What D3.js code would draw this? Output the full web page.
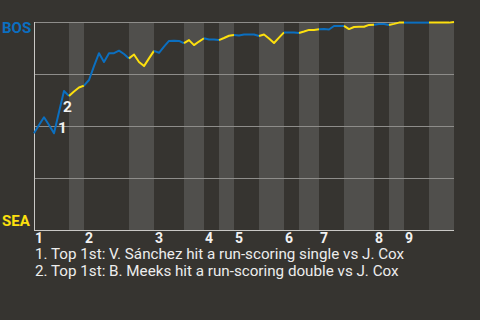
<!DOCTYPE html>
<html>
<head>
<meta charset="utf-8">
<script src="https://cdn.jsdelivr.net/npm/d3@7"></script>
<style>
  body { margin: 0; background: #363430; }
  svg { display: block; font-family: Roboto, "Noto Sans", sans-serif; }
</style>
</head>
<body>
<script>
// win probability after each event (BOS = 1, SEA = 0)
var winProb = [0.465, 0.505, 0.542, 0.505, 0.465, 0.567, 0.668, 0.644, 0.666, 0.685,
    0.694, 0.721, 0.788, 0.850, 0.808, 0.850, 0.850, 0.862, 0.846, 0.825,
    0.844, 0.808, 0.788, 0.825, 0.861, 0.852, 0.882, 0.909, 0.910, 0.909,
    0.898, 0.913, 0.889, 0.906, 0.922, 0.916, 0.916, 0.913, 0.923, 0.934,
    0.938, 0.935, 0.940, 0.940, 0.940, 0.933, 0.940, 0.921, 0.899, 0.925,
    0.950, 0.950, 0.950, 0.947, 0.954, 0.962, 0.962, 0.965, 0.966, 0.964,
    0.981, 0.981, 0.981, 0.966, 0.976, 0.977, 0.977, 0.986, 0.987, 0.990,
    0.990, 0.986, 0.991, 0.997, 0.997, 0.997, 0.997, 0.997, 0.997, 0.997,
    0.997, 0.997, 0.997, 0.997, 1.0];
// event index where each half inning starts (top 1st, bottom 1st, ...), last = end
var halfStarts = [0, 7, 10, 19, 24, 30, 34, 37, 40, 45, 50, 53, 57, 62, 68, 71, 74, 79, 84];
var inningLabels = ["1", "2", "3", "4", "5", "6", "7", "8", "9"];
var teams = ["BOS", "SEA"];
var markerIdx = [5, 6];
var markerLabels = ["1", "2"];
var notes = ["1. Top 1st: V. Sánchez hit a run-scoring single vs J. Cox",
    "2. Top 1st: B. Meeks hit a run-scoring double vs J. Cox"];

var margin = {top: 22, right: 26, bottom: 90, left: 34}
  , width = 480 - margin.left - margin.right
  , height = 320 - margin.top - margin.bottom;

var blue = "#0b6fc0", yellow = "#fde00e";

var svg = d3.select("body").append("svg")
    .attr("width", 480)
    .attr("height", 320)
    .append("g")
    .attr("transform", "translate(" + margin.left + "," + margin.top + ")");

var x = d3.scaleLinear().domain([0, halfStarts[halfStarts.length - 1]]).range([0, width]);
var y = d3.scaleLinear().domain([0, 1]).range([height, 0]);

// shaded bottom halves
var bottoms = d3.range(1, halfStarts.length - 1, 2);
svg.selectAll(".band")
    .data(bottoms)
    .enter().append("rect")
    .attr("class", "band")
    .attr("x", function(k) { return x(halfStarts[k]); })
    .attr("y", 0)
    .attr("width", function(k) { return x(halfStarts[k + 1]) - x(halfStarts[k]); })
    .attr("height", height)
    .style("fill", "#504f4c");

// gridlines
svg.append("g")
    .call(d3.axisLeft(y).tickValues([0.25, 0.5, 0.75, 1]).tickSize(-width).tickFormat(""))
    .call(g => g.select(".domain").remove())
    .selectAll("line")
    .style("stroke", "#8e8d8a");

// axis lines
svg.append("line")
    .attr("x1", 0.5).attr("x2", 0.5).attr("y1", 0).attr("y2", height)
    .style("stroke", "#c9c8c5");
svg.append("line")
    .attr("x1", 0).attr("x2", width).attr("y1", height + 0.5).attr("y2", height + 0.5)
    .style("stroke", "#c9c8c5");

// win probability line, one piece per half inning
var line = d3.line()
    .x(function(i) { return x(i); })
    .y(function(i) { return y(winProb[i]); });

svg.selectAll(".wp")
    .data(d3.range(halfStarts.length - 1))
    .enter().append("path")
    .attr("class", "wp")
    .attr("d", function(k) { return line(d3.range(halfStarts[k], halfStarts[k + 1] + 1)); })
    .style("fill", "none")
    .style("stroke", function(k) { return k % 2 === 0 ? blue : yellow; })
    .style("stroke-width", 2)
    .style("stroke-linejoin", "round");

// event markers
svg.selectAll(".marker")
    .data(markerIdx)
    .enter().append("text")
    .attr("class", "marker")
    .attr("x", function(i) { return x(i) - 1; })
    .attr("y", function(i) { return y(winProb[i]) + 21; })
    .text(function(d, i) { return markerLabels[i]; })
    .style("fill", "#f2f2f2")
    .style("font-weight", "bold")
    .style("font-size", "15.5px");

// team labels
svg.selectAll(".team")
    .data(teams)
    .enter().append("text")
    .attr("class", "team")
    .attr("x", -margin.left + 2)
    .attr("y", function(d, i) { return i === 0 ? 11 : height - 4; })
    .text(function(d) { return d; })
    .style("fill", function(d, i) { return i === 0 ? blue : yellow; })
    .style("font-weight", "bold")
    .style("font-size", "15px");

// inning labels
svg.selectAll(".inning")
    .data(inningLabels)
    .enter().append("text")
    .attr("class", "inning")
    .attr("x", function(d, i) { return x(halfStarts[i * 2]) + 1; })
    .attr("y", height + 13)
    .text(function(d) { return d; })
    .style("fill", "#f2f2f2")
    .style("font-weight", "bold")
    .style("font-size", "14px");

// footnotes
svg.selectAll(".note")
    .data(notes)
    .enter().append("text")
    .attr("class", "note")
    .attr("x", 1)
    .attr("y", function(d, i) { return height + 29 + i * 17; })
    .text(function(d) { return d; })
    .style("fill", "#ededed")
    .style("font-size", "15.2px");
</script>
</body>
</html>
